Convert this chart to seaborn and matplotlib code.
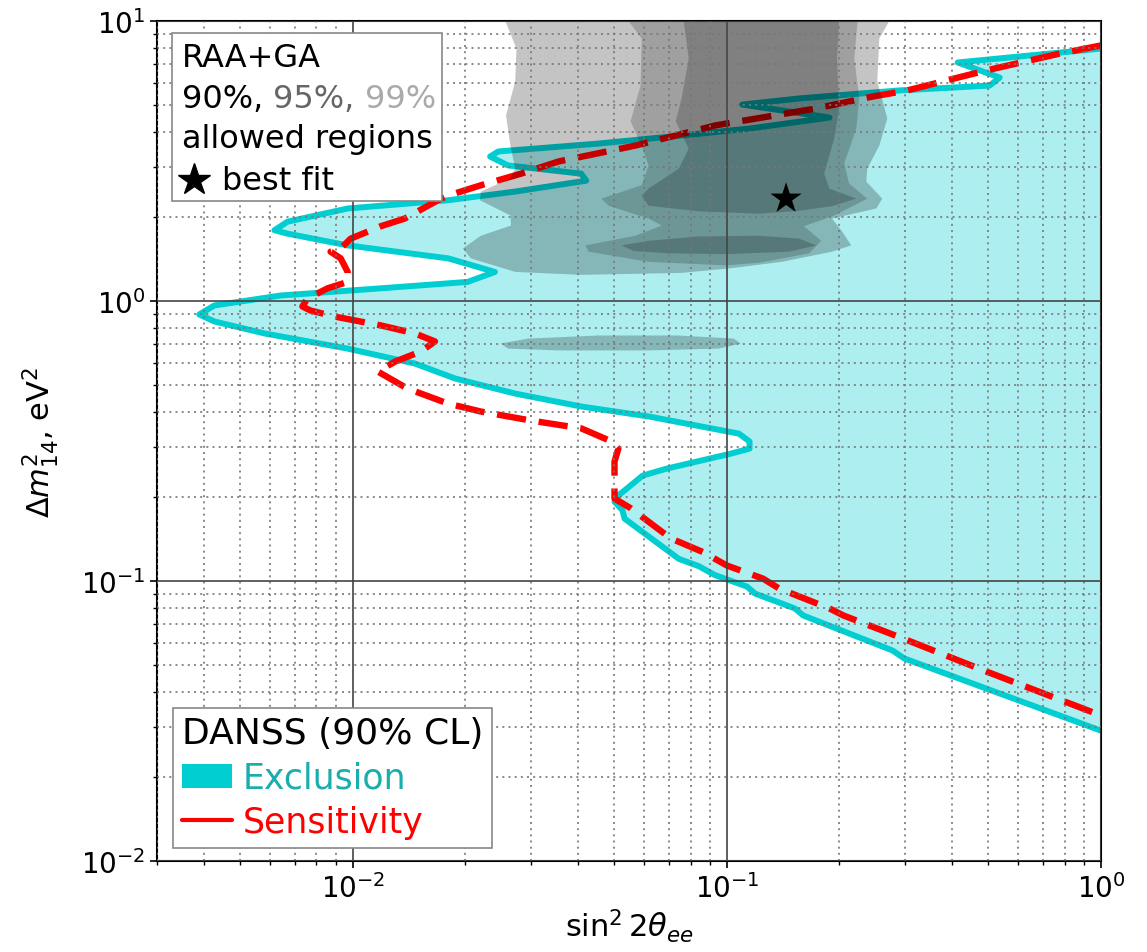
import numpy as np
import pandas as pd
import matplotlib
matplotlib.use("Agg")
import matplotlib.pyplot as plt
import seaborn as sns
from matplotlib.patches import Rectangle, Patch
from matplotlib.lines import Line2D

# ---------------- data (sin^2 2theta, dm^2 in eV^2) ----------------
excl_x = [1.0, 0.414, 0.536, 0.504, 0.289, 0.156, 0.110, 0.188, 0.115, 0.0757,
          0.0454, 0.0245, 0.0233, 0.0260, 0.0408, 0.0421, 0.0272, 0.0180, 0.0097, 0.0067,
          0.00618, 0.0067, 0.0097, 0.0180, 0.0240, 0.0203, 0.0119, 0.00641, 0.00523, 0.00427,
          0.00389, 0.00427, 0.00581, 0.0097, 0.01466, 0.01876, 0.0272, 0.0408, 0.0618, 0.1077,
          0.115, 0.115, 0.1025, 0.0691, 0.0596, 0.0513, 0.0501, 0.0526, 0.0533, 0.0744,
          0.0841, 0.0929, 0.1132, 0.1189, 0.152, 0.160, 0.277, 0.298, 1.0]
excl_y = [7.97, 7.11, 6.28, 5.88, 5.65, 5.29, 5.03, 4.52, 4.13, 3.90,
          3.65, 3.42, 3.28, 3.05, 2.85, 2.69, 2.46, 2.29, 2.14, 1.92,
          1.79, 1.74, 1.58, 1.42, 1.27, 1.17, 1.11, 1.046, 1.004, 0.964,
          0.895, 0.845, 0.766, 0.676, 0.598, 0.529, 0.467, 0.420, 0.387, 0.336,
          0.315, 0.297, 0.285, 0.252, 0.238, 0.202, 0.192, 0.179, 0.167, 0.120,
          0.113, 0.105, 0.0955, 0.0902, 0.0798, 0.0753, 0.0565, 0.0529, 0.0292]

sens_x = [1.0, 0.776, 0.494, 0.386, 0.304, 0.245, 0.173, 0.0934, 0.0730, 0.0570,
          0.0355, 0.0282, 0.0220, 0.0180, 0.0169, 0.01378, 0.0119, 0.00988, 0.00929, 0.00873,
          0.00929, 0.0097, 0.0097, 0.00857, 0.00757, 0.00734, 0.00771, 0.00895, 0.0119, 0.01466,
          0.0166, 0.0152, 0.0130, 0.01167, 0.0140, 0.0180, 0.0220, 0.0300, 0.0408, 0.0492,
          0.0513, 0.0501, 0.0501, 0.0553, 0.0708, 0.0862, 0.100, 0.1249, 0.138, 0.188,
          0.205, 0.296, 0.494, 1.0]
sens_y = [8.18, 7.65, 6.66, 6.13, 5.65, 5.37, 4.87, 4.24, 3.90, 3.59,
          3.15, 2.85, 2.59, 2.38, 2.29, 1.97, 1.85, 1.67, 1.54, 1.50,
          1.42, 1.27, 1.17, 1.11, 1.02, 0.956, 0.925, 0.880, 0.818, 0.766,
          0.717, 0.660, 0.608, 0.560, 0.487, 0.430, 0.403, 0.374, 0.351, 0.315,
          0.297, 0.267, 0.197, 0.182, 0.142, 0.127, 0.1136, 0.102, 0.094, 0.0798,
          0.0753, 0.0623, 0.0475, 0.0331]

# RAA+GA allowed regions
a99_x = [0.0256, 0.0256, 0.0274, 0.0272, 0.0257, 0.0264, 0.0272, 0.0264, 0.0220, 0.0219,
         0.0264, 0.0265, 0.0220, 0.0197, 0.0207, 0.0272, 0.0408, 0.0757, 0.1031, 0.1404,
         0.191, 0.215, 0.2034, 0.191, 0.2509, 0.2603, 0.2359, 0.2373, 0.2556, 0.2685,
         0.2524, 0.2556, 0.2718, 0.2753]
a99_y = [11.1, 10.0, 7.97, 6.08, 4.60, 3.59, 2.97, 2.74, 2.46, 2.29,
         2.02, 1.86, 1.71, 1.54, 1.42, 1.27, 1.24, 1.26, 1.31, 1.38,
         1.50, 1.58, 1.77, 1.97, 2.14, 2.32, 2.67, 2.97, 3.59, 4.49,
         6.08, 8.66, 10.0, 11.1]
a99b_x = [0.0249, 0.0294, 0.0454, 0.0744, 0.1044, 0.109, 0.0952, 0.0618, 0.0355, 0.0260]
a99b_y = [0.705, 0.734, 0.753, 0.753, 0.734, 0.705, 0.676, 0.666, 0.666, 0.676]

a95_x = [0.0546, 0.0546, 0.0592, 0.0588, 0.0553, 0.0592, 0.0618, 0.0592, 0.0462, 0.0483,
         0.0618, 0.0670, 0.0570, 0.0419, 0.0427, 0.0618, 0.0994, 0.1218, 0.1660, 0.1787,
         0.1608, 0.1936, 0.2373, 0.212, 0.206, 0.2218, 0.2259, 0.2191, 0.2236, 0.2259]
a95_y = [11.1, 10.0, 8.66, 5.88, 4.38, 3.59, 3.05, 2.59, 2.32, 2.19,
         1.97, 1.86, 1.71, 1.58, 1.50, 1.38, 1.34, 1.37, 1.48, 1.64,
         1.85, 2.02, 2.32, 2.63, 3.10, 4.13, 5.29, 7.35, 10.0, 11.1]

a90_x = [0.0767, 0.0767, 0.0791, 0.0757, 0.0730, 0.0791, 0.0744, 0.0618, 0.0592, 0.0618,
         0.0841, 0.1218, 0.156, 0.191, 0.2218, 0.188, 0.182, 0.1936, 0.1996, 0.197,
         0.1996, 0.1996]
a90_y = [11.1, 10.0, 7.35, 5.29, 4.38, 3.50, 2.97, 2.52, 2.38, 2.19,
         2.09, 2.05, 2.10, 2.18, 2.32, 2.52, 2.85, 3.80, 4.87, 7.35,
         10.0, 11.1]
a90b_x = [0.0523, 0.0618, 0.0841, 0.1218, 0.156, 0.1733, 0.1466, 0.0994, 0.0699, 0.0563]
a90b_y = [1.58, 1.64, 1.70, 1.71, 1.67, 1.58, 1.50, 1.47, 1.48, 1.51]

best_x = [0.144]
best_y = [2.32]

# ---------------- style ----------------
sns.set_theme(style="ticks")
plt.rcParams["font.family"] = ["DejaVu Sans"]
plt.rcParams["mathtext.fontset"] = "dejavusans"
for k in ["text.color", "axes.labelcolor", "xtick.color", "ytick.color"]:
    plt.rcParams[k] = "black"

CYAN = "#00CED1"
fig = plt.figure(figsize=(11.47, 9.53), dpi=100)
ax = fig.add_axes([157 / 1147, 1 - 862 / 953, (1101 - 157) / 1147, (862 - 22) / 953])
ax.set_xscale("log")
ax.set_yscale("log")

# exclusion region
ax.fill(excl_x, excl_y, facecolor=CYAN, alpha=0.32, edgecolor="none", zorder=1)
df_ex = pd.DataFrame({"x": excl_x, "y": excl_y})
sns.lineplot(data=df_ex, x="x", y="y", sort=False, estimator=None, color=CYAN,
             lw=4.3, ax=ax, zorder=2)
df_se = pd.DataFrame({"x": sens_x, "y": sens_y})
sns.lineplot(data=df_se, x="x", y="y", sort=False, estimator=None, color="red",
             lw=4.6, ax=ax, zorder=2.1)
ax.lines[-1].set_dashes((4.6, 2.0))

# allowed regions (stacked translucent grey)
for (gx, gy), al in [((a99_x, a99_y), 0.23), ((a99b_x, a99b_y), 0.23),
                     ((a95_x, a95_y), 0.18), ((a90_x, a90_y), 0.20),
                     ((a90b_x, a90b_y), 0.20)]:
    ax.fill(gx, gy, facecolor="black", alpha=al, edgecolor="none", zorder=2.2)

sns.scatterplot(x=best_x, y=best_y, marker="*", s=560, color="black",
                edgecolor="none", ax=ax, zorder=4)

ax.set_xlim(0.003, 1)
ax.set_ylim(0.01, 10)

# grid
ax.set_axisbelow(False)
ax.grid(True, which="major", color="#444444", lw=1.2, ls="-")
ax.grid(True, which="minor", color="#777777", lw=1.2, ls=(0, (1.2, 2.5)))
for sp in ax.spines.values():
    sp.set_color("black")
    sp.set_linewidth(1.5)
ax.tick_params(which="major", labelsize=20, length=5, width=1.2, direction="out",
               top=False, right=False, colors="black")
ax.tick_params(which="minor", length=3, width=1.0, direction="out", top=False, right=False)

ax.set_xlabel(r"$\sin^2 2\theta_{ee}$", fontsize=22, labelpad=3)
ax.set_ylabel(r"$\mathit{\Delta} m^2_{14}$, eV$^2$", fontsize=22, labelpad=14)

# ---------------- legend 1 (manual) ----------------
def ax_pt(px, py):
    return ((px - 157) / 944, (862 - py) / 840)

x0, y0 = ax_pt(172, 202)
x1, y1 = ax_pt(442, 34)
ax.add_patch(Rectangle((x0, y0), x1 - x0, y1 - y0, transform=ax.transAxes,
                       facecolor="white", edgecolor="#888888", lw=1.2, zorder=6))
fs1 = 23
tx, ty = ax_pt(182, 67)
ax.text(tx, ty, "RAA+GA", transform=ax.transAxes, fontsize=fs1, va="baseline", zorder=7)
tx, ty = ax_pt(182, 108)
t1 = ax.text(tx, ty, "90%, ", transform=ax.transAxes, fontsize=fs1, va="baseline", zorder=7)
t2 = ax.annotate("95%, ", xy=(1, 0), xycoords=t1, fontsize=fs1, va="bottom", ha="left",
                 color="#666666", zorder=7)
ax.annotate("99%", xy=(1, 0), xycoords=t2, fontsize=fs1, va="bottom", ha="left",
            color="#AAAAAA", zorder=7)
tx, ty = ax_pt(182, 148)
ax.text(tx, ty, "allowed regions", transform=ax.transAxes, fontsize=fs1, va="baseline", zorder=7)
sx, sy = ax_pt(194, 181)
ax.plot([sx], [sy], marker="*", markersize=24, color="black", transform=ax.transAxes,
        clip_on=False, zorder=7, lw=0)
tx, ty = ax_pt(222, 190)
ax.text(tx, ty, "best fit", transform=ax.transAxes, fontsize=fs1, va="baseline", zorder=7)

# ---------------- legend 2 ----------------
handles = [Patch(facecolor=CYAN, edgecolor="none"),
           Line2D([], [], color="red", lw=3)]
lx, ly = ax_pt(173, 849)
leg = ax.legend(handles, ["Exclusion", "Sensitivity"], title="DANSS (90% CL)",
                loc="lower left", bbox_to_anchor=(lx, ly), borderaxespad=0,
                fontsize=25, title_fontsize=26, frameon=True, fancybox=False,
                edgecolor="#888888", framealpha=1, handlelength=1.45,
                handletextpad=0.3, labelspacing=0.3, borderpad=0.25)
leg._legend_box.align = "left"
leg.get_frame().set_linewidth(1.2)
leg.set_zorder(7)
leg.get_texts()[0].set_color("#1AADAD")
leg.get_texts()[1].set_color("red")

fig.savefig("out.png", dpi=100)
